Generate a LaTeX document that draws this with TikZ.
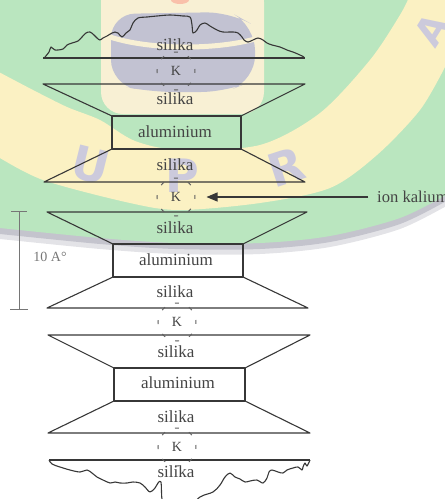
\documentclass[tikz,border=0pt]{standalone}
\usepackage{fontspec}
\setmainfont{Liberation Serif}
\newfontfamily\wmfont{DejaVu Sans}
\usepackage{tikz}
\usetikzlibrary{arrows.meta,positioning}

\definecolor{wmgreen}{RGB}{186,230,191}
\definecolor{wmyellow}{RGB}{251,241,195}
\definecolor{wmcream}{RGB}{248,240,212}
\definecolor{wmgrey}{RGB}{194,194,210}
\definecolor{wmletter}{RGB}{204,202,220}
\definecolor{wmshade}{RGB}{186,186,196}
\definecolor{linegray}{RGB}{55,55,55}
\definecolor{txtgray}{RGB}{68,68,68}
\definecolor{dashgray}{RGB}{95,95,95}
\definecolor{bargray}{RGB}{118,118,118}

\tikzset{
  lyr/.style={draw=linegray, line width=1.1pt, line join=round},
  lbl/.style={font=\fontsize{17}{17}\selectfont, text=txtgray, inner sep=0pt},
  kion/.style={circle, minimum size=38pt, inner sep=0pt, draw=dashgray,
    line width=1pt, dash pattern=on 4pt off 10.92pt, dash phase=2pt,
    font=\fontsize{14}{14}\selectfont, text=txtgray},
  wmtext/.style={font=\wmfont\bfseries\fontsize{46}{46}\selectfont, text=wmletter, inner sep=0pt},
}

\begin{document}
\begin{tikzpicture}[x=1pt,y=-1pt]
\useasboundingbox (0,0) rectangle (445,499);
\clip (0,0) rectangle (445,499);

% faded seal behind the layers
\fill[wmshade!40] (-5,-5) -- (-5,239) -- plot[smooth] coordinates {(0,239)(100,249)(175,254)(260,254)(330,247)(400,229)(450,204)} -- (450,-5) -- cycle;
\fill[wmshade!85] (-5,-5) -- (-5,234) -- plot[smooth] coordinates {(0,234)(100,244)(175,249)(260,249)(330,242)(400,224)(450,199)} -- (450,-5) -- cycle;
\fill[wmgreen] (-5,-5) -- (-5,228) -- plot[smooth] coordinates {(0,228)(100,238)(175,243)(260,243)(330,236)(400,218)(450,193)} -- (450,-5) -- cycle;
\fill[wmyellow] plot[smooth] coordinates {(-5,70)(33,90)(67,107)(100,120)(135,141)(180,150)(260,145)(320,113)(370,60)(400,15)(410,-5)}
  -- (450,-5) -- (450,62)
  -- plot[smooth] coordinates {(445,67)(420,110)(377,155)(330,188)(260,203)(180,210)(130,203)(43,180)(-5,155)} -- cycle;
\fill[wmcream, rounded corners=22pt] (101,-20) -- (101,114) -- (264,114) -- (264,-20) -- cycle;
\fill[wmgrey, rounded corners=24pt] (111,14) -- (111,84) -- (150,92) -- (225,92) -- (255,80) -- (255,26) -- (230,12) -- cycle;
\draw[wmcream, line width=5pt] (110,37) .. controls (150,50) and (215,50) .. (255,39);
\fill[red!20!wmcream] (180,0) ellipse [x radius=9, y radius=4];
\node[wmtext, rotate=-14] (wu) at (91,165) {U};
\node[wmtext] (wp) at (182,176) {P};
\node[wmtext, rotate=18] (wr) at (286,167) {R};
\node[wmtext, rotate=58, font=\wmfont\bfseries\fontsize{38}{38}\selectfont] (wa) at (432,30) {A};

% top sheet, ragged edge
\draw[lyr] (43,58) -- (305,58);
\draw[lyr] plot[smooth, tension=.55] coordinates {(45,57)(49,52)(51,47)(55,50)(63,49)(67,45)(72,43)(78,41)(82,37)(86,33)(90,32)(94,35)(97,38)(100,40)(103,38)(107,36)(112,33)(115,32)(118,33)(122,37)(126,33)(130,30)(133,23)(138,18)(147,17)(157,16)(170,15)(183,16)(190,17)(192,25)(193,33)(197,30)(200,25)(205,23)(210,26)(217,30)(223,32)(233,32)(238,33)(242,37)(244,40)(248,42)(253,40)(258,38)(263,40)(267,43)(272,45)(280,47)(287,50)(293,52)(300,55)(304,57)};

% first unit
\draw[lyr] (43,84) -- (305,84) -- (241,116) -- (112,116) -- cycle;
\draw[lyr] (112,116) rectangle (241,149);
\draw[lyr] (112,149) -- (241,149) -- (305,182) -- (44,182) -- cycle;

% second unit
\draw[lyr] (47,212) -- (307,212) -- (243,244) -- (113,244) -- cycle;
\draw[lyr] (113,244) rectangle (243,277);
\draw[lyr] (113,277) -- (243,277) -- (308,308) -- (47,308) -- cycle;

% third unit
\draw[lyr] (48,335) -- (310,335) -- (245,368) -- (114,368) -- cycle;
\draw[lyr] (114,368) rectangle (245,401);
\draw[lyr] (114,401) -- (245,401) -- (310,433) -- (48,433) -- cycle;

% bottom sheet, ragged edge
\draw[lyr] (49,460) -- (310,460);
\draw[lyr] plot[smooth, tension=.55] coordinates {(49,460)(52,464)(60,467)(70,470)(80,472)(87,470)(92,473)(97,477)(103,480)(110,483)(115,482)(120,483)(127,483)(133,482)(140,483)(145,487)(150,492)(155,488)(158,483)(161,482)(162,499)(166,508)(185,510)(200,497)(213,492)(220,485)(225,477)(230,473)(235,477)(240,479)(245,482)(250,481)(257,480)(263,483)(267,478)(269,472)(272,470)(278,472)(283,473)(287,470)(293,468)(298,467)(302,470)(303,467)(305,463)(307,466)(310,460)};

\node[lbl] (s0) at (175,45) {silika};
\node[kion] (k1) at (176,71) {K};
\node[lbl] (s1) at (175,99) {silika};
\node[lbl] (a1) at (175,132) {aluminium};
\node[lbl] (s2) at (175,165) {silika};
\node[kion] (k2) at (176,197) {K};
\node[lbl] (s3) at (175,228) {silika};
\node[lbl] (a2) at (176,260) {aluminium};
\node[lbl] (s4) at (175,292) {silika};
\node[kion] (k3) at (177,322) {K};
\node[lbl] (s5) at (176,352) {silika};
\node[lbl] (a3) at (178,383) {aluminium};
\node[lbl] (s6) at (176,417) {silika};
\node[kion] (k4) at (177,447) {K};
\node[lbl] (s7) at (176,472) {silika};

\node[lbl, anchor=west, font=\fontsize{16.6}{16.6}\selectfont] (ion) at (377,197) {ion kalium};
\draw[-{Triangle[length=11pt,width=9pt]}, line width=1.1pt, draw=linegray, fill=linegray,
  shorten <=9pt, shorten >=11pt] (ion.west) -- (k2.east);

% thickness of one unit
\coordinate (bt) at (19,211);
\coordinate (bb) at (19,310);
\draw[bargray, line width=1pt, {Bar[width=16pt]}-{Bar[width=18pt]}] (bt) -- (bb);
\node[lbl, font=\fontsize{14}{14}\selectfont, text=bargray] (dist) at (50,257) {10 A°};
\end{tikzpicture}
\end{document}
